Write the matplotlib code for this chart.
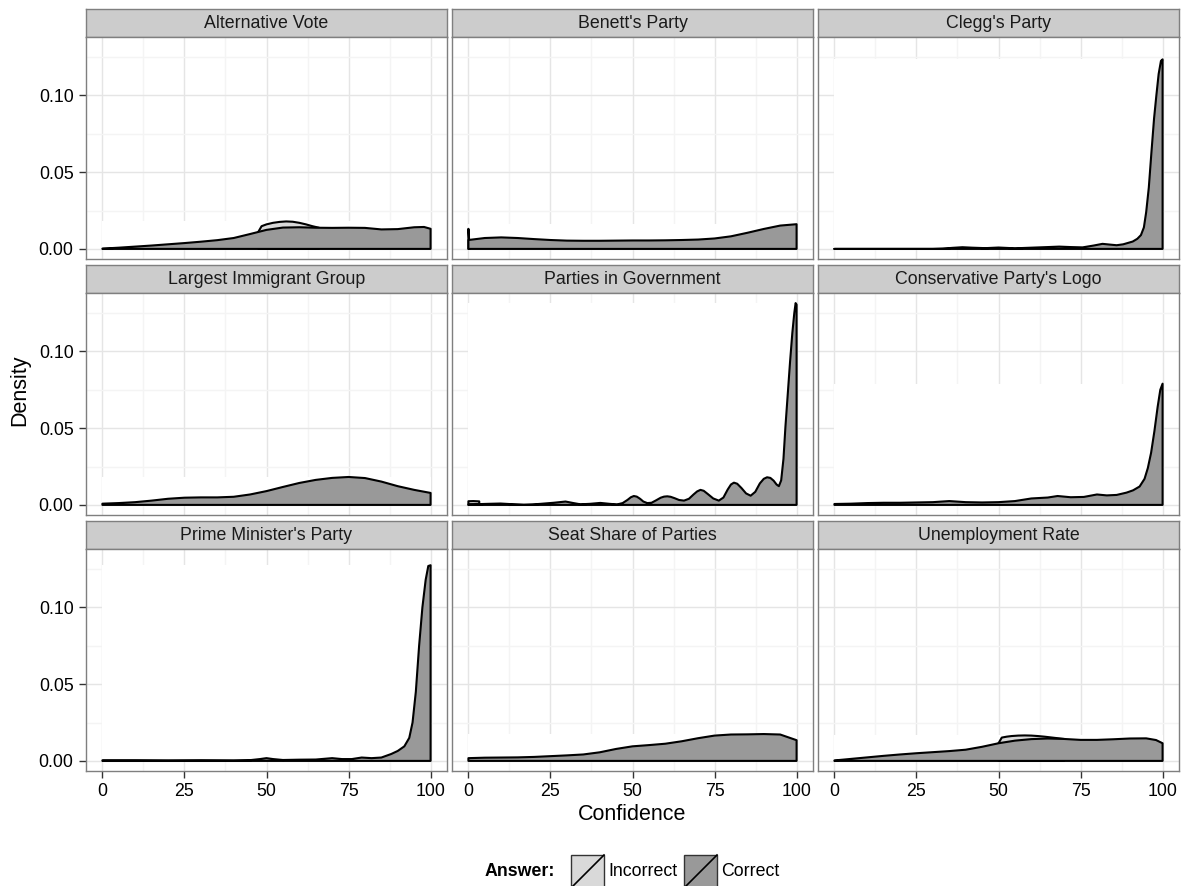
import matplotlib
matplotlib.use("Agg")
import matplotlib.pyplot as plt
from matplotlib.patches import Rectangle
from matplotlib.lines import Line2D

plt.rcParams['font.family'] = ['Liberation Sans', 'DejaVu Sans']

W, H = 1186, 886

titles = [
    "Alternative Vote", "Benett's Party", "Clegg's Party",
    "Largest Immigrant Group", "Parties in Government", "Conservative Party's Logo",
    "Prime Minister's Party", "Seat Share of Parties", "Unemployment Rate",
]

# --- density of confidence, correct answers
av_x = [0, 5, 10, 15, 20, 25, 30, 35, 40, 45, 50, 55, 60, 65, 70, 75, 80, 85, 90, 95, 98, 100]
av_y = [0.0002, 0.0008, 0.0015, 0.0022, 0.003, 0.0038, 0.0047, 0.0057, 0.0071, 0.0097, 0.0124, 0.0139,
        0.0141, 0.0138, 0.0137, 0.0138, 0.0137, 0.0127, 0.0129, 0.0141, 0.0143, 0.0131]

bp_x = [0, 5, 10, 15, 20, 25, 30, 35, 40, 45, 50, 55, 60, 65, 70, 75, 80, 85, 90, 95, 100]
bp_y = [0.0058, 0.0071, 0.0075, 0.0071, 0.0064, 0.0058, 0.0054, 0.0053, 0.0053, 0.0054, 0.0055,
        0.0055, 0.0056, 0.0058, 0.0061, 0.0068, 0.0082, 0.0105, 0.013, 0.0152, 0.0161]

cp_x = [0, 10, 20, 30, 33, 36, 39, 42, 46, 50, 55, 60, 65, 68.5, 72, 75.6, 79, 81.7, 84, 86, 88,
        90.9, 92.3, 93.4, 94.3, 95, 95.8, 96.6, 97.4, 98.1, 98.8, 99.5, 100]
cp_y = [0.0, 0.0, 0.0, 0.0, 0.0002, 0.0007, 0.0011, 0.0008, 0.0005, 0.0009, 0.0004, 0.0008, 0.0012,
        0.0015, 0.0012, 0.001, 0.0022, 0.0033, 0.0028, 0.0024, 0.003, 0.0048, 0.0066, 0.009, 0.014,
        0.024, 0.04, 0.063, 0.085, 0.1, 0.114, 0.1225, 0.1235]

ig_x = [0, 5, 10, 15, 20, 25, 30, 35, 40, 45, 50, 55, 60, 65, 70, 75, 80, 85, 90, 95, 100]
ig_y = [0.0008, 0.0012, 0.0018, 0.0028, 0.004, 0.0047, 0.0049, 0.0049, 0.0053, 0.0068, 0.009,
        0.0117, 0.0143, 0.0163, 0.0176, 0.0182, 0.0175, 0.0152, 0.0122, 0.0098, 0.0078]

pg_x = [0, 3, 6, 9.8, 13, 16.9, 19.5, 22, 26, 29.6, 32, 34.1, 37, 40.2, 43, 45.3, 47, 48.5, 49.5,
        50.4, 51.3, 52.3, 53.3, 54.5, 55.8, 57.2, 58.6, 59.6, 60.6, 61.6, 62.8, 64.2, 65.7, 67.2,
        68.6, 69.7, 70.7, 71.7, 73, 74.6, 76.3, 77.7, 79, 80, 80.9, 81.9, 83.2, 84.6, 86, 87.4,
        88.8, 90, 91, 92, 93, 93.9, 94.6, 95.3, 96, 96.6, 97.3, 98, 98.7, 99.3, 99.7, 100]
pg_y = [0.0004, 0.0005, 0.0007, 0.0009, 0.0005, 0.0001, 0.0003, 0.0007, 0.0014, 0.0022, 0.0012,
        0.0004, 0.0007, 0.0013, 0.0007, 0.0003, 0.0012, 0.0033, 0.0050, 0.0058, 0.0054, 0.0040,
        0.0022, 0.0012, 0.0014, 0.0030, 0.0047, 0.0054, 0.0056, 0.0053, 0.0044, 0.0032, 0.0028,
        0.0040, 0.0068, 0.0088, 0.0098, 0.0092, 0.0070, 0.0042, 0.0028, 0.0048, 0.0100, 0.0133,
        0.0145, 0.0138, 0.0110, 0.0075, 0.0060, 0.0085, 0.0140, 0.0170, 0.0180, 0.0176, 0.0158,
        0.0133, 0.0122, 0.0160, 0.0300, 0.0510, 0.0720, 0.0930, 0.1120, 0.1250, 0.1315, 0.1305]

cl_x = [0, 5, 10, 15, 20, 25, 30, 35, 40, 45, 50, 55, 60, 65, 68, 72, 76, 80, 83, 86, 89, 91, 93,
        94.5, 95.5, 96.5, 97.5, 98.5, 99.3, 100]
cl_y = [0.0006, 0.0008, 0.0012, 0.0014, 0.0014, 0.0016, 0.0018, 0.0025, 0.0018, 0.0016, 0.0018,
        0.0025, 0.0042, 0.0048, 0.0058, 0.005, 0.0052, 0.0068, 0.0062, 0.0065, 0.0080, 0.0095,
        0.012, 0.017, 0.024, 0.034, 0.048, 0.064, 0.075, 0.079]

pm_x = [0, 10, 20, 30, 40, 45, 48, 50, 52, 55, 60, 65, 70, 73, 76, 79, 82, 85, 88, 90, 92, 93.5,
        94.5, 95.5, 96.5, 97.5, 98.5, 99.3, 100]
pm_y = [0.0004, 0.0004, 0.0003, 0.0004, 0.0003, 0.0005, 0.0012, 0.0018, 0.0012, 0.0006, 0.0008,
        0.0009, 0.0018, 0.0012, 0.0012, 0.0022, 0.0018, 0.0022, 0.0045, 0.0065, 0.0095, 0.015,
        0.025, 0.045, 0.075, 0.1, 0.118, 0.127, 0.1275]

ss_x = [0, 5, 10, 15, 20, 25, 30, 35, 40, 45, 50, 55, 60, 65, 70, 75, 80, 85, 90, 95, 100]
ss_y = [0.0018, 0.0021, 0.0022, 0.0023, 0.0026, 0.0031, 0.0036, 0.0042, 0.0056, 0.0078, 0.0095,
        0.0103, 0.0112, 0.0128, 0.0148, 0.0165, 0.0172, 0.0173, 0.0175, 0.0172, 0.0135]

ur_x = [0, 5, 10, 15, 20, 25, 30, 35, 40, 45, 50, 55, 60, 65, 70, 75, 80, 85, 90, 95, 98, 100]
ur_y = [0.0003, 0.0013, 0.0023, 0.0033, 0.0042, 0.005, 0.0057, 0.0064, 0.0073, 0.0092, 0.0115,
        0.0132, 0.0142, 0.0146, 0.0143, 0.0137, 0.0137, 0.0141, 0.0146, 0.0147, 0.0136, 0.0115]

# --- density of confidence, incorrect answers (only where it exists)
av_inc_x = [47.5, 48.5, 50, 52, 54, 56, 58, 60, 62, 64, 66]
av_inc_y = [0.0111, 0.0148, 0.0160, 0.0170, 0.0176, 0.0179, 0.0177, 0.0170, 0.0160, 0.0148, 0.0138]

bp_inc_x = [0, 0, 0.4]
bp_inc_y = [0.0, 0.0131, 0.0]

pg_inc_x = [0, 0, 1.5, 3.3, 3.3]
pg_inc_y = [0.0, 0.0024, 0.0025, 0.0023, 0.0]

ur_inc_x = [50, 51, 52.5, 54, 56, 58, 60, 62, 64, 66, 68, 70]
ur_inc_y = [0.0115, 0.0152, 0.0158, 0.0162, 0.0165, 0.0166, 0.0165, 0.0162, 0.0158, 0.0153, 0.0148,
            0.0143]

correct = [(av_x, av_y), (bp_x, bp_y), (cp_x, cp_y),
           (ig_x, ig_y), (pg_x, pg_y), (cl_x, cl_y),
           (pm_x, pm_y), (ss_x, ss_y), (ur_x, ur_y)]
incorrect = [(av_inc_x, av_inc_y), (bp_inc_x, bp_inc_y), None,
             None, (pg_inc_x, pg_inc_y), None,
             None, None, (ur_inc_x, ur_inc_y)]

x_ticks = [0, 25, 50, 75, 100]
y_ticks = [0.0, 0.05, 0.10]
y_ticklabels = ["0.00", "0.05", "0.10"]

FILL_INC = "#D9D9D9"
FILL_COR = "#999999"
BORDER = "#7F7F7F"

# shared y range across facets (ggplot-style 5% expansion)
ymax = max(max(y) for _, y in correct)
ylim = (-0.05 * ymax, 1.05 * ymax)

# panel geometry in pixels
col_left = [86, 452, 818]
row_top = [9, 265, 521]
pw, ph, sh = 361, 222, 28

fig = plt.figure(figsize=(W / 100, H / 100), dpi=100)


def fig_box(l, t, w, h):
    return [l / W, 1 - (t + h) / H, w / W, h / H]


def density(ax, xs, ys, color, z):
    px = [xs[0]] + list(xs) + [xs[-1]]
    py = [0] + list(ys) + [0]
    ax.fill(px, py, facecolor=color, edgecolor="black", lw=1.5,
            joinstyle="round", zorder=z)


for i, title in enumerate(titles):
    r, c = divmod(i, 3)
    l, t = col_left[c], row_top[r]

    strip = fig.add_axes(fig_box(l, t, pw, sh))
    strip.set_facecolor("#CCCCCC")
    strip.set_xticks([])
    strip.set_yticks([])
    for s in strip.spines.values():
        s.set_color(BORDER)
        s.set_linewidth(1.0)
    strip.text(0.5, 0.5, title, ha="center", va="center", fontsize=12.8,
               color="#1A1A1A", transform=strip.transAxes)

    ax = fig.add_axes(fig_box(l, t + sh, pw, ph))
    ax.set_xlim(-5, 105)
    ax.set_ylim(*ylim)
    ax.set_xticks(x_ticks)
    ax.set_xticks([12.5, 37.5, 62.5, 87.5], minor=True)
    ax.set_yticks(y_ticks)
    ax.set_yticks([0.025, 0.075, 0.125], minor=True)
    ax.set_axisbelow(True)
    ax.grid(which="major", color="#E5E5E5", lw=1.0)
    ax.grid(which="minor", color="#F4F4F4", lw=1.0)
    for s in ax.spines.values():
        s.set_color(BORDER)
        s.set_linewidth(1.0)
    ax.tick_params(which="minor", length=0)
    ax.tick_params(which="major", direction="out", length=5, width=1.0,
                   color="#333333", pad=4, labelsize=12.8, labelcolor="black")

    if c == 0:
        ax.set_yticklabels(y_ticklabels)
    else:
        ax.tick_params(axis="y", length=0, labelleft=False)
    if r == 2:
        ax.set_xticklabels([str(v) for v in x_ticks])
    else:
        ax.tick_params(axis="x", length=0, labelbottom=False)

    cx, cy = correct[i]
    top = max(cy)
    if incorrect[i] is not None:
        top = max(top, max(incorrect[i][1]))
    # blank area behind the densities
    ax.add_patch(Rectangle((min(cx), 0), max(cx) - min(cx), top,
                           facecolor="white", edgecolor="none", zorder=1))

    if incorrect[i] is not None:
        ix, iy = incorrect[i]
        density(ax, ix, iy, FILL_INC, 2)
    density(ax, cx, cy, FILL_COR, 3)

fig.text(632 / W, 1 - 815 / H, "Confidence", ha="center", va="center", fontsize=15.5)
fig.text(20 / W, 1 - 390 / H, "Density", ha="center", va="center", rotation=90, fontsize=15.5)

# legend along the bottom
ly = 1 - 872 / H
fig.text(485 / W, ly, "Answer:", ha="left", va="center", fontsize=12.8, fontweight="bold")
for kx, fill, label in [(571, FILL_INC, "Incorrect"), (684, FILL_COR, "Correct")]:
    key = Rectangle((kx / W, 1 - 888 / H), 33 / W, 33 / H, transform=fig.transFigure,
                    facecolor=fill, edgecolor="#333333", lw=1.0)
    fig.patches.append(key)
    fig.lines.append(Line2D([kx / W, (kx + 33) / W], [1 - 888 / H, 1 - 855 / H],
                            transform=fig.transFigure, color="black", lw=1.2))
    fig.text((kx + 37) / W, ly, label, ha="left", va="center", fontsize=12.8)

fig.savefig("out.png", dpi=100)
